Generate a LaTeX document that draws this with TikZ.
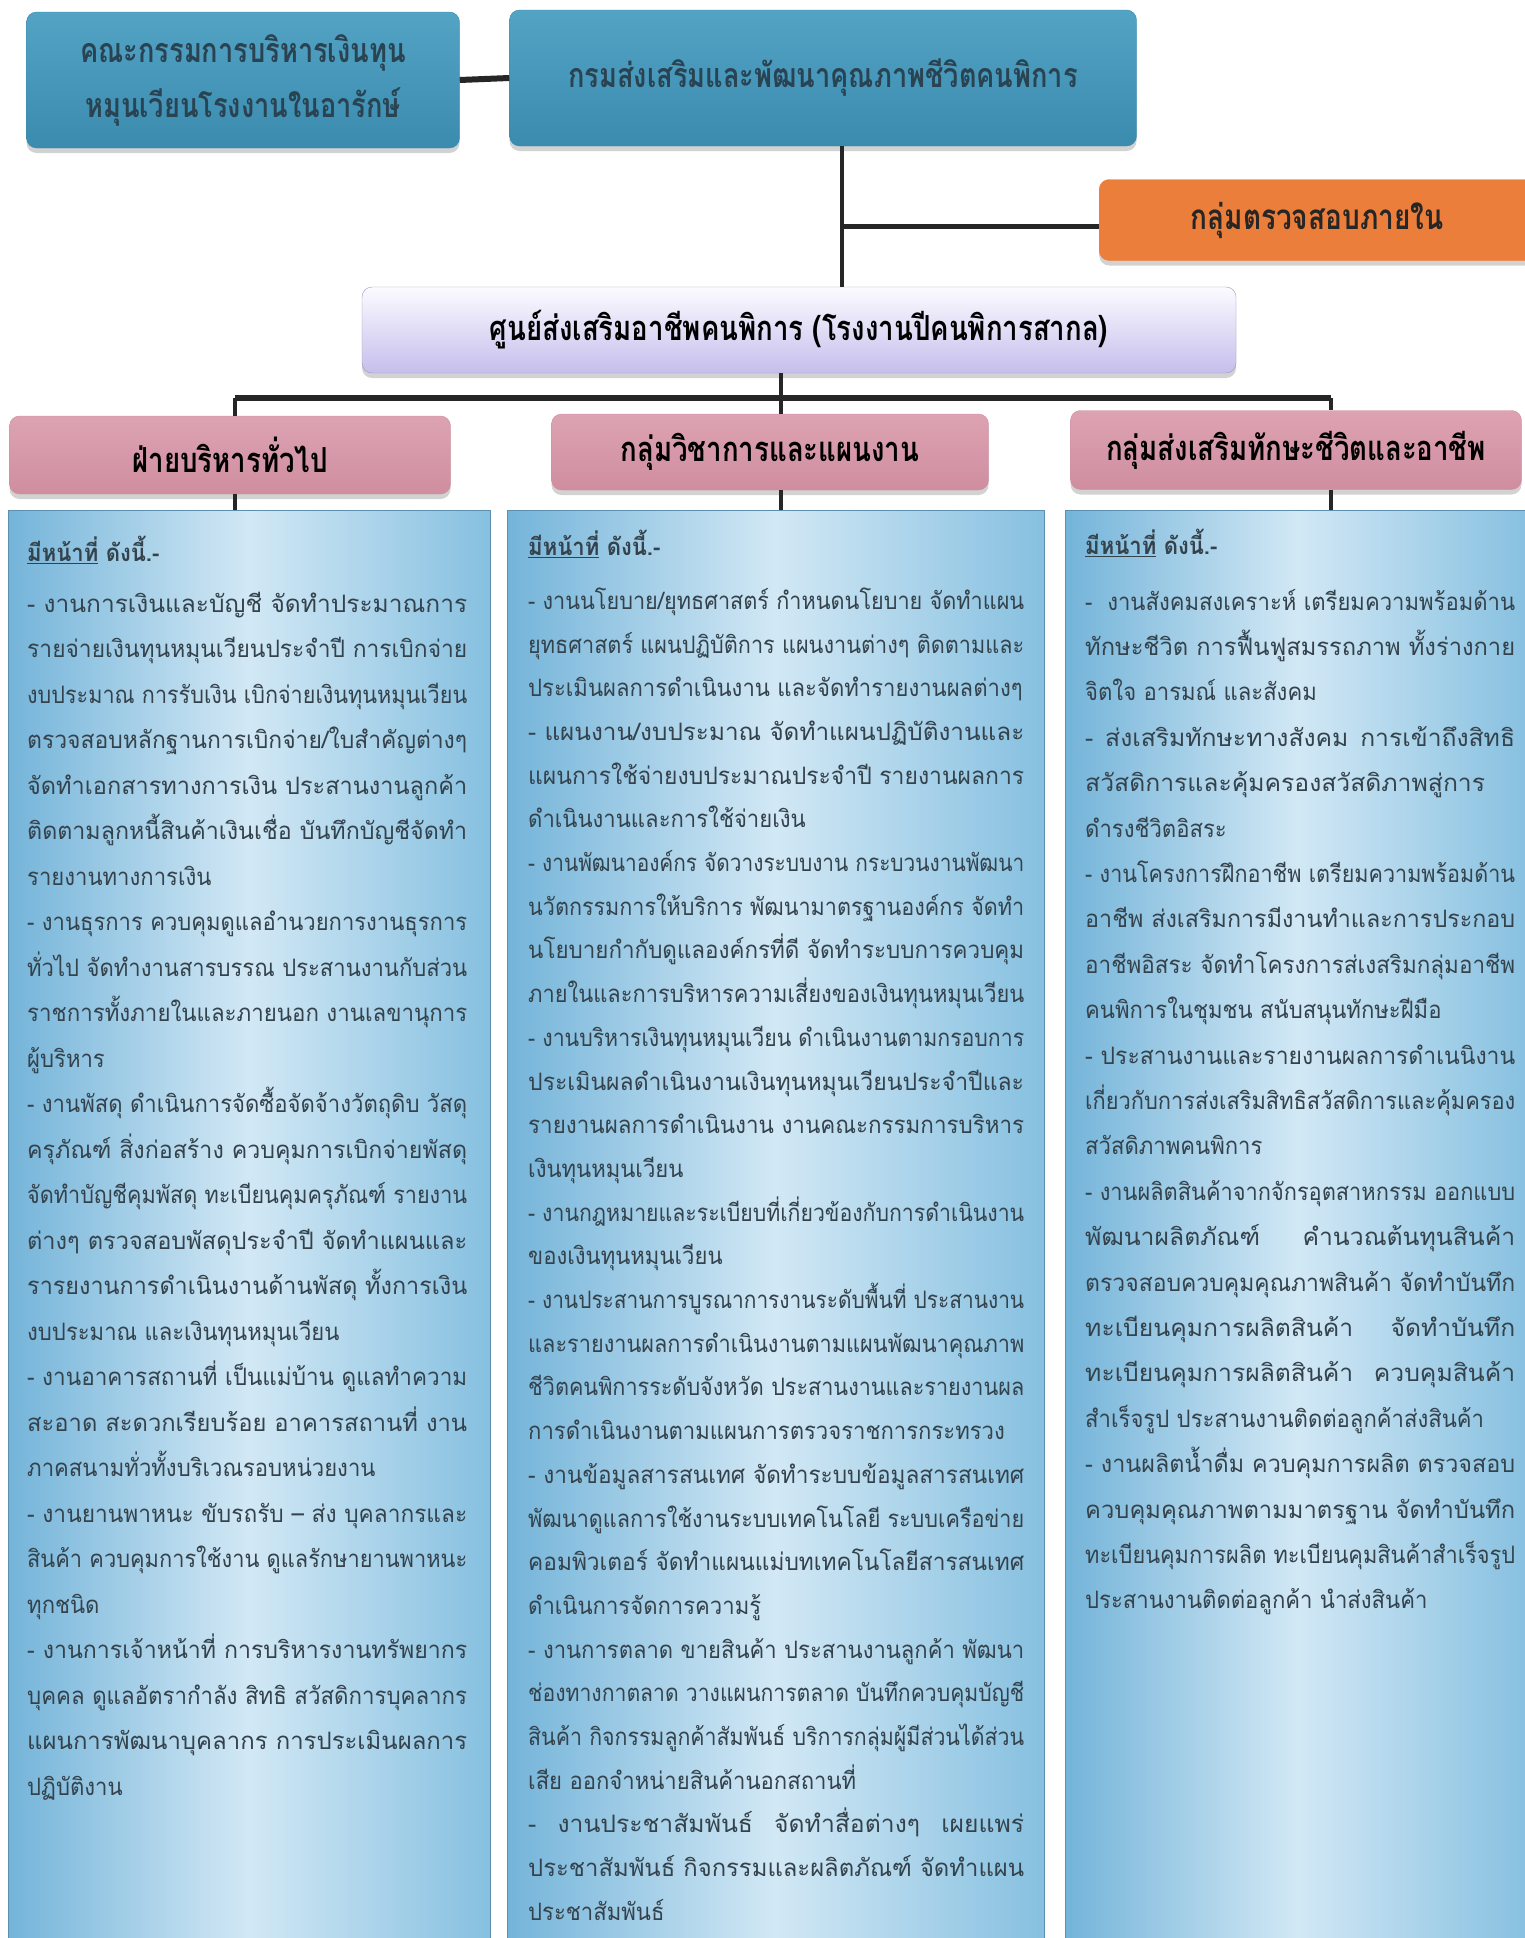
\documentclass[tikz,border=0pt]{standalone}
\usepackage{fontspec}
\def\basestretch{0.92}
\newfontfamily\thai[Script=Thai,FakeStretch=0.92]{Loma}
\newfontfamily\thaicond[Script=Thai,FakeStretch=0.8]{Loma}
\usetikzlibrary{shadows}
\definecolor{tealtop}{HTML}{52A3C4}
\definecolor{tealbot}{HTML}{3A8BAE}
\definecolor{tealtext}{HTML}{2A4352}
\definecolor{orangebox}{HTML}{EA7E3A}
\definecolor{purptop}{HTML}{FCFBFF}
\definecolor{purpbot}{HTML}{C6BEEC}
\definecolor{pinktop}{HTML}{DDA3B2}
\definecolor{pinkbot}{HTML}{CF8E9F}
\definecolor{colleft}{HTML}{74B4D9}
\definecolor{colmid}{HTML}{D2E8F5}
\definecolor{colright}{HTML}{86C0E0}
\definecolor{bodytext}{HTML}{34424C}
\newlength\linew
\newlength\tmpw
\newcommand\jl[1]{%
  \settowidth{\tmpw}{#1}%
  \pgfmathsetmacro\sx{round(1000*\basestretch*min(\linew/\tmpw,1.12))/1000}%
  {\addfontfeature{FakeStretch=\sx}\makebox[\linew][s]{#1}}}
\tikzset{
  box/.style={rounded corners=10pt, inner sep=0pt, align=center,
    drop shadow={shadow xshift=0pt, shadow yshift=-5pt, opacity=0.35, fill=gray}},
  tealbox/.style={box, top color=tealtop, bottom color=tealbot, draw=tealbot,
    text=tealtext, font=\thaicond\bfseries\fontsize{34}{55}\selectfont},
  orangebox/.style={box, fill=orangebox, draw=orangebox},
  headfont/.style={font=\thaicond\bfseries\fontsize{34.5}{40}\selectfont},
  purpbox/.style={box, top color=purptop, bottom color=purpbot, draw=purpbot!80!black,
    text=black, headfont},
  pinkbox/.style={box, top color=pinktop, bottom color=pinkbot, draw=pinkbot,
    text=black, headfont},
  colpanel/.style={left color=colleft, right color=colright, middle color=colmid,
    draw=colleft!80!black, line width=1pt},
  coltext/.style={anchor=north west, align=left, inner sep=0pt, text=bodytext,
    font=\thai\fontsize{24}{45.5}\selectfont},
  link/.style={draw=black!85, line width=4pt},
}
\begin{document}
\begin{tikzpicture}[x=1pt,y=-1pt]
\useasboundingbox[fill=white] (0,0) rectangle (1525,1938);

% column panels
\path[colpanel] (8,510) rectangle (490,1945);
\path[colpanel] (507,510) rectangle (1044,1945);
\path[colpanel] (1065,510) rectangle (1530,1945);
\node[coordinate] (C1) at (249,510) {};
\node[coordinate] (C2) at (775,510) {};
\node[coordinate] (C3) at (1295,510) {};

% top boxes
\node[tealbox, minimum width=433pt, minimum height=136pt] (A) at (243,80)
  {คณะกรรมการบริหารเงินทุน\\หมุนเวียนโรงงานในอารักษ์};
\node[tealbox, minimum width=627pt, minimum height=136pt] (B) at (823,78)
  {กรมส่งเสริมและพัฒนาคุณภาพชีวิตคนพิการ};
\node[orangebox, minimum width=441pt, minimum height=81pt, anchor=west] (O) at (1099,220) {};
\node[text=black!85, font=\thaicond\bfseries\fontsize{35}{40}\selectfont] (Ot) at (1317,220) {กลุ่มตรวจสอบภายใน};
\node[purpbox, minimum width=874pt, minimum height=86pt] (P) at (799,330)
  {ศูนย์ส่งเสริมอาชีพคนพิการ (โรงงานปีคนพิการสากล)};
\node[pinkbox, minimum width=441pt, minimum height=78pt] (G1) at (230,455) {ฝ่ายบริหารทั่วไป};
\node[pinkbox, minimum width=437pt, minimum height=76pt] (G2) at (770,452) {กลุ่มวิชาการและแผนงาน};
\node[pinkbox, minimum width=451pt, minimum height=79pt] (G3) at (1296,450) {กลุ่มส่งเสริมทักษะชีวิตและอาชีพ};

% connectors
\coordinate (j1) at (842,226);
\coordinate (d1) at (235,398);
\coordinate (d2) at (781,398);
\coordinate (d3) at (1331,398);
\draw[link, line width=6pt] (A.east) -- (B.west);
\draw[link] (B.south -| j1) -- (P.north -| j1);
\draw[link, line width=5pt] (j1) -- (j1 -| O.west);
\draw[link] (P.south -| d2) -- (d2);
\draw[link, line width=6pt] (d1) -- (d3);
\draw[link] (d1) -- (d1 |- G1.north);
\draw[link] (d2) -- (d2 |- G2.north);
\draw[link] (d3) -- (d3 |- G3.north);
\draw[link] (d1 |- G1.south) -- (d1 |- C1);
\draw[link] (d2 |- G2.south) -- (d2 |- C2);
\draw[link] (d3 |- G3.south) -- (d3 |- C3);

% column texts
\setlength\linew{440pt}
\node[coltext] (T1) at (27,536) {%
{\bfseries\underline{มีหน้าที่} ดังนี้.-}\\[5pt]
\jl{- งานการเงินและบัญชี จัดทำประมาณการ}\\
\jl{รายจ่ายเงินทุนหมุนเวียนประจำปี การเบิกจ่าย}\\
\jl{งบประมาณ การรับเงิน เบิกจ่ายเงินทุนหมุนเวียน}\\
\jl{ตรวจสอบหลักฐานการเบิกจ่าย/ใบสำคัญต่างๆ}\\
\jl{จัดทำเอกสารทางการเงิน ประสานงานลูกค้า}\\
\jl{ติดตามลูกหนี้สินค้าเงินเชื่อ บันทึกบัญชีจัดทำ}\\
รายงานทางการเงิน\\
\jl{- งานธุรการ ควบคุมดูแลอำนวยการงานธุรการ}\\
\jl{ทั่วไป จัดทำงานสารบรรณ ประสานงานกับส่วน}\\
\jl{ราชการทั้งภายในและภายนอก งานเลขานุการ}\\
ผู้บริหาร\\
\jl{- งานพัสดุ ดำเนินการจัดซื้อจัดจ้างวัตถุดิบ วัสดุ}\\
\jl{ครุภัณฑ์ สิ่งก่อสร้าง ควบคุมการเบิกจ่ายพัสดุ}\\
\jl{จัดทำบัญชีคุมพัสดุ ทะเบียนคุมครุภัณฑ์ รายงาน}\\
\jl{ต่างๆ ตรวจสอบพัสดุประจำปี จัดทำแผนและ}\\
\jl{รารยงานการดำเนินงานด้านพัสดุ ทั้งการเงิน}\\
งบประมาณ และเงินทุนหมุนเวียน\\
\jl{- งานอาคารสถานที่ เป็นแม่บ้าน ดูแลทำความ}\\
\jl{สะอาด สะดวกเรียบร้อย อาคารสถานที่ งาน}\\
ภาคสนามทั่วทั้งบริเวณรอบหน่วยงาน\\
\jl{- งานยานพาหนะ ขับรถรับ – ส่ง บุคลากรและ}\\
\jl{สินค้า ควบคุมการใช้งาน ดูแลรักษายานพาหนะ}\\
ทุกชนิด\\
\jl{- งานการเจ้าหน้าที่ การบริหารงานทรัพยากร}\\
\jl{บุคคล ดูแลอัตรากำลัง สิทธิ สวัสดิการบุคลากร}\\
\jl{แผนการพัฒนาบุคลากร การประเมินผลการ}\\
ปฏิบัติงาน};

\setlength\linew{496pt}
\node[coltext, font=\thai\fontsize{24}{43.7}\selectfont] (T2) at (528,530) {%
{\bfseries\underline{มีหน้าที่} ดังนี้.-}\\[10pt]
\jl{- งานนโยบาย/ยุทธศาสตร์ กำหนดนโยบาย จัดทำแผน}\\
\jl{ยุทธศาสตร์ แผนปฏิบัติการ แผนงานต่างๆ ติดตามและ}\\
ประเมินผลการดำเนินงาน และจัดทำรายงานผลต่างๆ\\
\jl{- แผนงาน/งบประมาณ จัดทำแผนปฏิบัติงานและ}\\
\jl{แผนการใช้จ่ายงบประมาณประจำปี รายงานผลการ}\\
ดำเนินงานและการใช้จ่ายเงิน\\
\jl{- งานพัฒนาองค์กร จัดวางระบบงาน กระบวนงานพัฒนา}\\
\jl{นวัตกรรมการให้บริการ พัฒนามาตรฐานองค์กร จัดทำ}\\
\jl{นโยบายกำกับดูแลองค์กรที่ดี จัดทำระบบการควบคุม}\\
\jl{ภายในและการบริหารความเสี่ยงของเงินทุนหมุนเวียน}\\
\jl{- งานบริหารเงินทุนหมุนเวียน ดำเนินงานตามกรอบการ}\\
\jl{ประเมินผลดำเนินงานเงินทุนหมุนเวียนประจำปีและ}\\
\jl{รายงานผลการดำเนินงาน งานคณะกรรมการบริหาร}\\
เงินทุนหมุนเวียน\\
\jl{- งานกฎหมายและระเบียบที่เกี่ยวข้องกับการดำเนินงาน}\\
ของเงินทุนหมุนเวียน\\
\jl{- งานประสานการบูรณาการงานระดับพื้นที่ ประสานงาน}\\
\jl{และรายงานผลการดำเนินงานตามแผนพัฒนาคุณภาพ}\\
\jl{ชีวิตคนพิการระดับจังหวัด ประสานงานและรายงานผล}\\
การดำเนินงานตามแผนการตรวจราชการกระทรวง\\
\jl{- งานข้อมูลสารสนเทศ จัดทำระบบข้อมูลสารสนเทศ}\\
\jl{พัฒนาดูแลการใช้งานระบบเทคโนโลยี ระบบเครือข่าย}\\
\jl{คอมพิวเตอร์ จัดทำแผนแม่บทเทคโนโลยีสารสนเทศ}\\
ดำเนินการจัดการความรู้\\
\jl{- งานการตลาด ขายสินค้า ประสานงานลูกค้า พัฒนา}\\
\jl{ช่องทางกาตลาด วางแผนการตลาด บันทึกควบคุมบัญชี}\\
\jl{สินค้า กิจกรรมลูกค้าสัมพันธ์ บริการกลุ่มผู้มีส่วนได้ส่วน}\\
เสีย ออกจำหน่ายสินค้านอกสถานที่\\
\jl{- งานประชาสัมพันธ์ จัดทำสื่อต่างๆ เผยแพร่}\\
\jl{ประชาสัมพันธ์ กิจกรรมและผลิตภัณฑ์ จัดทำแผน}\\
ประชาสัมพันธ์};

\setlength\linew{430pt}
\node[coltext, font=\thai\fontsize{24}{45.4}\selectfont] (T3) at (1085,529) {%
{\bfseries\underline{มีหน้าที่} ดังนี้.-}\\[10pt]
\jl{-~ งานสังคมสงเคราะห์ เตรียมความพร้อมด้าน}\\
\jl{ทักษะชีวิต การฟื้นฟูสมรรถภาพ ทั้งร่างกาย}\\
จิตใจ อารมณ์ และสังคม\\
\jl{- ส่งเสริมทักษะทางสังคม การเข้าถึงสิทธิ}\\
\jl{สวัสดิการและคุ้มครองสวัสดิภาพสู่การ}\\
ดำรงชีวิตอิสระ\\
\jl{- งานโครงการฝึกอาชีพ เตรียมความพร้อมด้าน}\\
\jl{อาชีพ ส่งเสริมการมีงานทำและการประกอบ}\\
\jl{อาชีพอิสระ จัดทำโครงการส่เงสริมกลุ่มอาชีพ}\\
คนพิการในชุมชน สนับสนุนทักษะฝีมือ\\
\jl{- ประสานงานและรายงานผลการดำเนนิงาน}\\
\jl{เกี่ยวกับการส่งเสริมสิทธิสวัสดิการและคุ้มครอง}\\
สวัสดิภาพคนพิการ\\
\jl{- งานผลิตสินค้าจากจักรอุตสาหกรรม ออกแบบ}\\
\jl{พัฒนาผลิตภัณฑ์ คำนวณต้นทุนสินค้า}\\
\jl{ตรวจสอบควบคุมคุณภาพสินค้า จัดทำบันทึก}\\
\jl{ทะเบียนคุมการผลิตสินค้า จัดทำบันทึก}\\
\jl{ทะเบียนคุมการผลิตสินค้า ควบคุมสินค้า}\\
สำเร็จรูป ประสานงานติดต่อลูกค้าส่งสินค้า\\
\jl{- งานผลิตน้ำดื่ม ควบคุมการผลิต ตรวจสอบ}\\
\jl{ควบคุมคุณภาพตามมาตรฐาน จัดทำบันทึก}\\
\jl{ทะเบียนคุมการผลิต ทะเบียนคุมสินค้าสำเร็จรูป}\\
ประสานงานติดต่อลูกค้า นำส่งสินค้า};
\end{tikzpicture}
\end{document}
